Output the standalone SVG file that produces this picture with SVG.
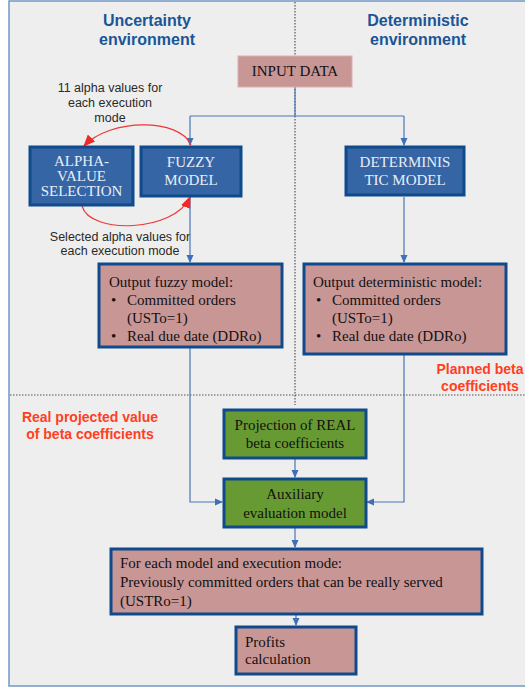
<svg xmlns="http://www.w3.org/2000/svg" width="525" height="687" viewBox="0 0 525 687">
<style>
.title{font-family:"Liberation Sans",Arial,sans-serif;font-weight:bold;font-size:16px;fill:#1a5597;text-anchor:middle}
.red{font-family:"Liberation Sans",Arial,sans-serif;font-weight:bold;font-size:14px;fill:#ff3f1f;text-anchor:middle}
.note{font-family:"Liberation Sans",Arial,sans-serif;font-size:12.5px;fill:#2a2a2a;text-anchor:middle}
.ser{font-family:"Liberation Serif","Times New Roman",serif;font-size:15px;fill:#111}
.wt{font-family:"Liberation Serif","Times New Roman",serif;font-size:15px;fill:#e8eef7;text-anchor:middle}
.blue{fill:#3565a5;stroke:#0f4a8c;stroke-width:3}
.rose{fill:#c99696;stroke:#0f4a8c;stroke-width:3}
.green{fill:#689a34;stroke:#0f4a8c;stroke-width:3}
.dot{stroke:#555;stroke-width:1.2;stroke-dasharray:1.5 1.5;fill:none}
.conn{stroke:#4a76b8;stroke-width:1.2;fill:none}
.rc{stroke:#f03535;stroke-width:1.2;fill:none}
</style>
<defs>
<marker id="ab" markerWidth="8" markerHeight="8" refX="7" refY="4" orient="auto" markerUnits="userSpaceOnUse">
<path d="M0,0.5 L8,4 L0,7.5 Z" fill="#3f6fb5"/>
</marker>
<marker id="ar" markerWidth="12" markerHeight="10" refX="11" refY="5" orient="auto" markerUnits="userSpaceOnUse">
<path d="M0,0 L12,5 L0,10 Z" fill="#f02828"/>
</marker>
</defs>
<rect x="0" y="0" width="525" height="687" fill="#ffffff"/>
<rect x="9" y="1" width="525" height="685" fill="#eeeeee" stroke="#7097c8" stroke-width="1.5"/>
<g id="dividers">
<line class="dot" x1="295" y1="2" x2="295" y2="405"/>
<line class="dot" x1="10" y1="395" x2="525" y2="395"/>
</g>
<g id="labels">
<text class="title" x="147" y="26">Uncertainty</text>
<text class="title" x="147" y="45">environment</text>
<text class="title" x="418" y="26">Deterministic</text>
<text class="title" x="418" y="45">environment</text>
<text class="note" x="110" y="92">11 alpha values for</text>
<text class="note" x="110" y="107">each execution</text>
<text class="note" x="110" y="122">mode</text>
<text class="note" x="120" y="241">Selected alpha values for</text>
<text class="note" x="120" y="255">each execution mode</text>
<text class="red" x="480" y="374">Planned beta</text>
<text class="red" x="480" y="391">coefficients</text>
<text class="red" x="90" y="422">Real projected value</text>
<text class="red" x="90" y="439">of beta coefficients</text>
</g>
<g id="connectors">
<polyline class="conn" points="295,87 295,116"/>
<polyline class="conn" points="190,116 404,116"/>
<polyline class="conn" points="190,116 190,145" marker-end="url(#ab)"/>
<polyline class="conn" points="404,116 404,145" marker-end="url(#ab)"/>
<polyline class="conn" points="190,197 190,262" marker-end="url(#ab)"/>
<polyline class="conn" points="404,197 404,262" marker-end="url(#ab)"/>
<polyline class="conn" points="190,348 190,502 222,502" marker-end="url(#ab)"/>
<polyline class="conn" points="404,355 404,502 367,502" marker-end="url(#ab)"/>
<polyline class="conn" points="295,459 295,477" marker-end="url(#ab)"/>
<polyline class="conn" points="295,528 295,547" marker-end="url(#ab)"/>
<polyline class="conn" points="296,615 296,625" marker-end="url(#ab)"/>
<path class="rc" d="M191,145 C180,118 110,118 84,146" marker-end="url(#ar)"/>
<path class="rc" d="M82,206 C90,235 175,232 190,197" marker-end="url(#ar)"/>
</g>
<g id="input-data">
<rect x="238" y="56" width="114" height="31" fill="#c99696" stroke="#d9b0b0" stroke-width="1"/>
<text class="ser" x="295" y="76" text-anchor="middle" font-size="14">INPUT DATA</text>
</g>
<g id="alpha-value-selection">
<rect class="blue" x="30" y="147" width="103" height="58"/>
<text class="wt" x="81.5" y="166" font-size="13">ALPHA-</text>
<text class="wt" x="81.5" y="181" font-size="13">VALUE</text>
<text class="wt" x="81.5" y="196" font-size="13">SELECTION</text>
</g>
<g id="fuzzy-model">
<rect class="blue" x="141" y="147" width="100" height="49"/>
<text class="wt" x="191" y="167">FUZZY</text>
<text class="wt" x="191" y="185">MODEL</text>
</g>
<g id="deterministic-model">
<rect class="blue" x="346" y="147" width="118" height="48"/>
<text class="wt" x="405" y="167">DETERMINIS</text>
<text class="wt" x="405" y="185">TIC MODEL</text>
</g>
<g id="output-fuzzy">
<rect class="rose" x="99" y="264" width="183" height="83"/>
<text class="ser" x="109" y="287">Output fuzzy model:</text>
<text class="ser" x="111" y="305">•</text>
<text class="ser" x="127" y="305">Committed orders</text>
<text class="ser" x="127" y="323">(USTo=1)</text>
<text class="ser" x="111" y="341">•</text>
<text class="ser" x="127" y="341">Real due date (DDRo)</text>
</g>
<g id="output-deterministic">
<rect class="rose" x="304" y="264" width="202" height="90"/>
<text class="ser" x="313" y="287">Output deterministic model:</text>
<text class="ser" x="316" y="305">•</text>
<text class="ser" x="332" y="305">Committed orders</text>
<text class="ser" x="332" y="323">(USTo=1)</text>
<text class="ser" x="316" y="341">•</text>
<text class="ser" x="332" y="341">Real due date (DDRo)</text>
</g>
<g id="projection">
<rect class="green" x="224" y="410" width="142" height="48"/>
<text class="ser" x="295" y="430" text-anchor="middle">Projection of REAL</text>
<text class="ser" x="295" y="448" text-anchor="middle">beta coefficients</text>
</g>
<g id="auxiliary">
<rect class="green" x="224" y="479" width="142" height="48"/>
<text class="ser" x="295" y="499" text-anchor="middle">Auxiliary</text>
<text class="ser" x="295" y="518" text-anchor="middle">evaluation model</text>
</g>
<g id="for-each">
<rect class="rose" x="111" y="549" width="371" height="65"/>
<text class="ser" x="120" y="568">For each model and execution mode:</text>
<text class="ser" x="120" y="587">Previously committed orders that can be really served</text>
<text class="ser" x="120" y="606">(USTRo=1)</text>
</g>
<g id="profits">
<rect class="rose" x="236" y="627" width="120" height="47"/>
<text class="ser" x="245" y="647">Profits</text>
<text class="ser" x="245" y="664">calculation</text>
</g>
</svg>
